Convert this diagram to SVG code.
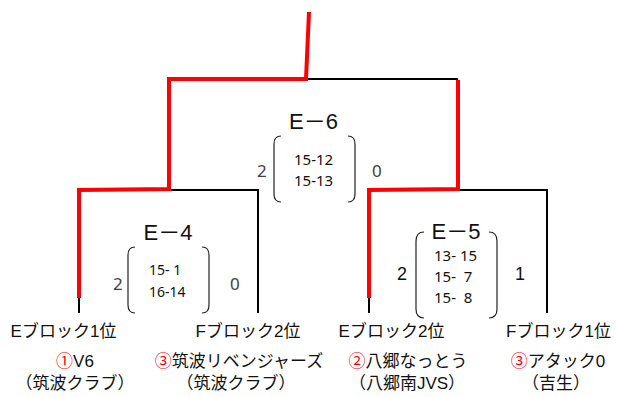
<svg xmlns="http://www.w3.org/2000/svg" width="617" height="397" viewBox="0 0 617 397">
<style>
.red{fill:none;stroke:#FF0000;stroke-width:4;stroke-linejoin:miter}
.blk{fill:none;stroke:#000;stroke-width:2}
.brk{fill:none;stroke:#222;stroke-width:1.2}
.jp{font-family:"Liberation Sans","Noto Sans CJK JP",sans-serif;font-size:17px;fill:#111}
.ttl{font-family:"Liberation Sans","Noto Sans CJK JP",sans-serif;font-size:22px;fill:#111;text-anchor:middle}
.sc{font-family:"Noto Sans","Open Sans",sans-serif;font-size:14px;fill:#111}
.sg{font-family:"Noto Sans","Open Sans",sans-serif;font-size:17px;fill:#404040}
.sb{font-family:"Liberation Sans",sans-serif;font-size:18px;fill:#111}
.c{text-anchor:middle}
.r{fill:#FF0000}
</style>
<g id="connectors">
<path class="blk" d="M306,79 L458,79"/>
<path class="blk" d="M169,190 L258,190 L258,313"/>
<path class="blk" d="M79,296 L79,313"/>
<path class="blk" d="M369,296 L369,313"/>
<path class="blk" d="M458,190 L547,190 L547,313"/>
<path class="red" d="M309,12 L306,79 L169,79 L169,189 L79,190 L79,298"/>
<path class="red" d="M458,80 L458,189 L369,190 L369,298"/>
</g>
<g id="match-e6">
<text class="ttl" x="313.5" y="129">E－6</text>
<path class="brk" d="M281,136 Q274,136 274,144 L274,194 Q274,202 281,202"/>
<path class="brk" d="M348,136 Q355,136 355,144 L355,194 Q355,202 348,202"/>
<text class="sc" x="294" y="165" style="font-size:15px">15-12</text>
<text class="sc" x="294" y="186" style="font-size:15px">15-13</text>
<text class="sg" x="257" y="177">2</text>
<text class="sg" x="372" y="177">0</text>
</g>
<g id="match-e4">
<text class="ttl" x="168" y="240">E－4</text>
<path class="brk" d="M135,247 Q128,247 128,255 L128,305 Q128,313 135,313"/>
<path class="brk" d="M202,247 Q209,247 209,255 L209,305 Q209,313 202,313"/>
<text class="sc" x="149" y="275" xml:space="preserve">15- 1</text>
<text class="sc" x="149" y="297">16-14</text>
<text class="sg" x="113" y="290">2</text>
<text class="sg" x="230" y="290">0</text>
</g>
<g id="match-e5">
<text class="ttl" x="456" y="239">E－5</text>
<path class="brk" d="M424,232 Q416,232 416,241 L416,309 Q416,318 424,318"/>
<path class="brk" d="M489,232 Q497,232 497,241 L497,309 Q497,318 489,318"/>
<text class="sc" x="434" y="261" style="font-size:15px" xml:space="preserve">13- 15</text>
<text class="sc" x="434" y="282" style="font-size:15px" xml:space="preserve">15-  7</text>
<text class="sc" x="434" y="303" style="font-size:15px" xml:space="preserve">15-  8</text>
<text class="sb" x="397" y="280">2</text>
<text class="sb" x="515" y="280">1</text>
</g>
<g id="team-e1">
<text class="jp c" x="63.5" y="337">Eブロック1位</text>
<text class="jp c" x="75" y="367"><tspan class="r">①</tspan>V6</text>
<text class="jp c" x="75" y="389">（筑波クラブ）</text>
</g>
<g id="team-f2">
<text class="jp c" x="248" y="337">Fブロック2位</text>
<text class="jp c" x="239" y="367"><tspan class="r">③</tspan>筑波リベンジャーズ</text>
<text class="jp c" x="236" y="389">（筑波クラブ）</text>
</g>
<g id="team-e2">
<text class="jp c" x="391.5" y="337">Eブロック2位</text>
<text class="jp c" x="408" y="367"><tspan class="r">②</tspan>八郷なっとう</text>
<text class="jp c" x="407" y="389">（八郷南JVS）</text>
</g>
<g id="team-f1">
<text class="jp c" x="558.5" y="337">Fブロック1位</text>
<text class="jp c" x="558" y="367"><tspan class="r">③</tspan>アタック0</text>
<text class="jp c" x="556" y="389">（吉生）</text>
</g>
</svg>
